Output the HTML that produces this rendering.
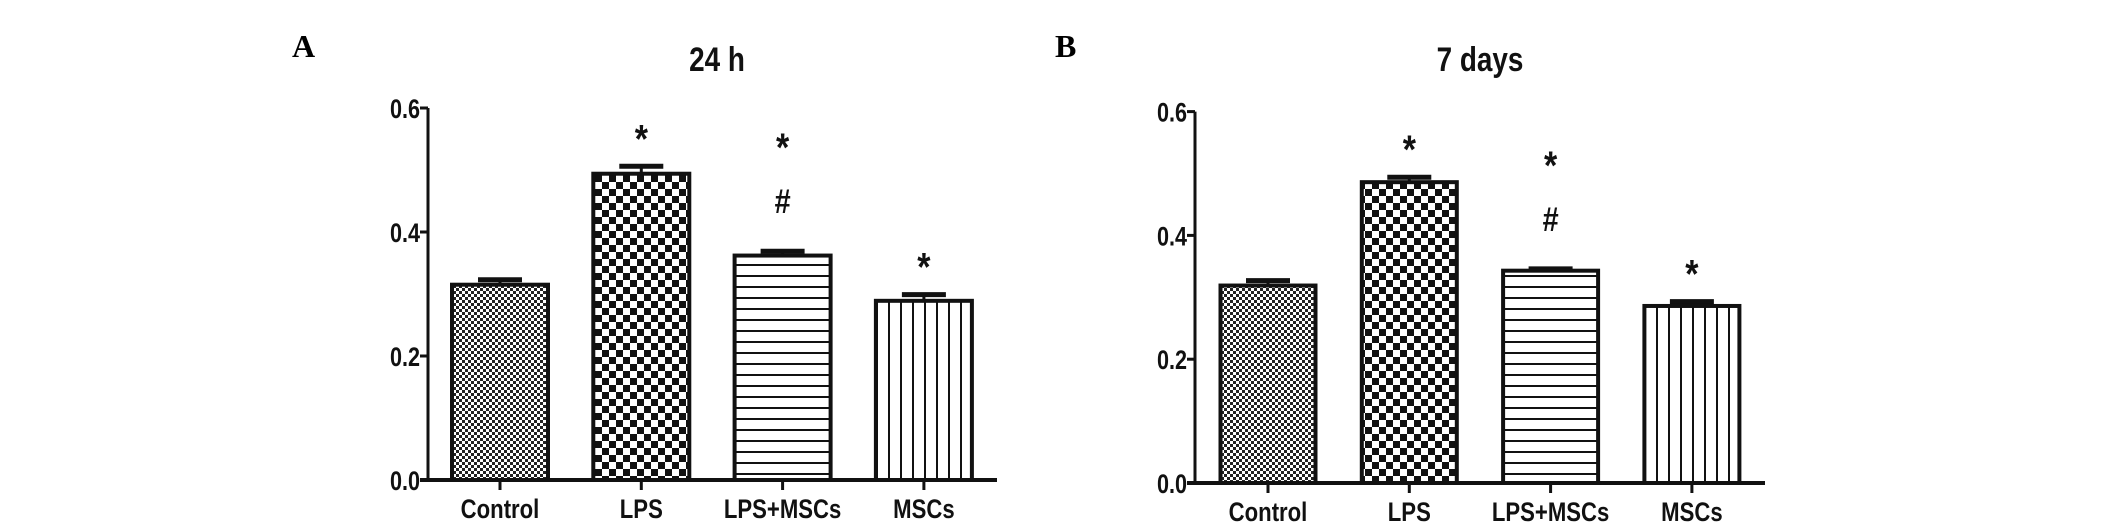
<!DOCTYPE html>
<html><head><meta charset="utf-8"><style>
html,body{margin:0;padding:0;background:#fff;}
svg{display:block;}
.t{font-family:"Liberation Sans",sans-serif;font-weight:bold;fill:#111;}
</style></head><body>
<svg id="c" width="2126" height="529" viewBox="0 0 2126 529">
<defs>
<pattern id="pFine" width="6" height="6" patternUnits="userSpaceOnUse"><rect width="6" height="6" fill="#fff"/><rect width="3" height="3" fill="#222"/><rect x="3" y="3" width="3" height="3" fill="#222"/></pattern>
<pattern id="pCoarse" width="14" height="14" patternUnits="userSpaceOnUse"><rect width="14" height="14" fill="#fff"/><rect width="7" height="7" fill="#111"/><rect x="7" y="7" width="7" height="7" fill="#111"/></pattern>
<pattern id="pHoriz" width="10" height="11" patternUnits="userSpaceOnUse"><rect width="10" height="11" fill="#fff"/><rect y="0" width="10" height="2" fill="#111"/></pattern>
<pattern id="pVert" width="12" height="10" patternUnits="userSpaceOnUse"><rect width="12" height="10" fill="#fff"/><rect x="0" width="2" height="10" fill="#111"/></pattern>
</defs>
</svg>
<script>
const categories = ["Control","LPS","LPS+MSCs","MSCs"];
const valuesA = [0.315,0.494,0.362,0.289];
const errorsA = [0.008,0.012,0.007,0.010];
const valuesB = [0.319,0.486,0.343,0.286];
const errorsB = [0.008,0.008,0.003,0.007];
const marksA = [[],["*"],["*","#"],["*"]];
const marksB = [[],["*"],["*","#"],["*"]];
const yTicks = [0,0.2,0.4,0.6];
const tickLabels = ["0.0","0.2","0.4","0.6"];
const fills = ["url(#pFine)","url(#pCoarse)","url(#pHoriz)","url(#pVert)"];
const NS="http://www.w3.org/2000/svg";
const svg=document.getElementById('c');
function mk(tag,attrs,parent){const e=document.createElementNS(NS,tag);for(const k in attrs)e.setAttribute(k,attrs[k]);(parent||svg).appendChild(e);return e;}
function panel(cfg){
  const g=mk('g',{});
  
  
  const y=v=>cfg.y0-v*cfg.ppu;
  const x=i=>cfg.c0+i*cfg.step;
  const lab=mk('text',{x:cfg.labX,y:cfg.labY,'font-size':32,'font-family':'Liberation Serif,serif','font-weight':'bold'},g);
  lab.textContent=cfg.letter;
  
  
  const tt=mk('text',{x:0,y:0,'font-size':34,'text-anchor':'middle',class:'t',transform:`translate(${cfg.titleX},71) scale(0.82,1)`},g);
  tt.textContent=cfg.title;
  
  
  const ya=mk('line',{x1:cfg.ax,y1:y(0.6),x2:cfg.ax,y2:cfg.y0,stroke:'#111','stroke-width':3},g);
  
  
  yTicks.forEach((v,i)=>{
    mk('line',{x1:cfg.ax-8,y1:y(v),x2:cfg.ax,y2:y(v),stroke:'#111','stroke-width':3},g);
    const t=mk('text',{x:0,y:0,'font-size':27,'text-anchor':'end',class:'t',transform:`translate(${cfg.ax-8},${y(v)+10}) scale(0.8,1)`},g);
    t.textContent=tickLabels[i];
    
    
  });
  categories.forEach((c,i)=>{
    const v=cfg.vals[i],e=cfg.errs[i],cx=x(i),w=cfg.bw;
    mk('line',{x1:cx,y1:y(v),x2:cx,y2:y(v+e),stroke:'#111','stroke-width':3},g);
    mk('line',{x1:cx-22,y1:y(v+e),x2:cx+22,y2:y(v+e),stroke:'#111','stroke-width':5},g);
    const r=mk('rect',{x:cx-w/2,y:y(v),width:w,height:cfg.y0-y(v),fill:fills[i],stroke:'#111','stroke-width':4},g);
    
    
    mk('line',{x1:cx,y1:cfg.y0,x2:cx,y2:cfg.y0+10,stroke:'#111','stroke-width':3},g);
    const t=mk('text',{x:0,y:0,'font-size':27,'text-anchor':'middle',class:'t',transform:`translate(${cx},${cfg.y0+38}) scale(0.82,1)`},g);
    t.textContent=c;
    
    
    const top=y(v+e);
    const n=cfg.marks[i].length;
    cfg.marks[i].forEach((m,j)=>{
      let cy;
      if(n===1) cy=top-36;
      else cy = m==="#" ? top-50 : top-112;
      const s=mk('text',{x:0,y:0,'font-size':m==="*"?40:34,'text-anchor':'middle',class:'t',transform:`translate(${cx},${m==="*"?cy+22:cy+12}) scale(0.85,1)`},g);
      s.textContent=m;
      
      
    });
  });
  const xa=mk('line',{x1:cfg.ax-8,y1:cfg.y0,x2:cfg.xEnd,y2:cfg.y0,stroke:'#111','stroke-width':4},g);
  
  
}
panel({name:'panel-a-24h',letter:'A',labX:292,labY:57,title:'24 h',titleX:717,ax:428,y0:480,ppu:620,c0:500,step:141.3,bw:96,xEnd:997,vals:valuesA,errs:errorsA,marks:marksA});
panel({name:'panel-b-7days',letter:'B',labX:1055,labY:57,title:'7 days',titleX:1480,ax:1195,y0:483,ppu:619,c0:1268,step:141.3,bw:95,xEnd:1765,vals:valuesB,errs:errorsB,marks:marksB});
</script>
</body></html>
